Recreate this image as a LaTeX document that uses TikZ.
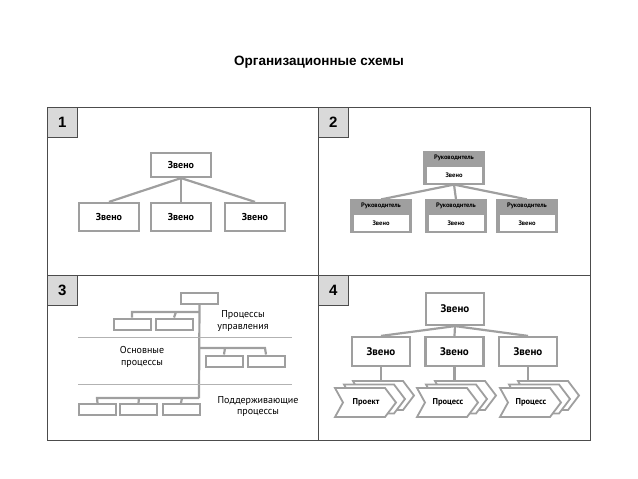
\documentclass[tikz,border=0pt]{standalone}
\usepackage{fontspec}
\setmainfont{Liberation Sans}
\newfontfamily\bx{PT Sans}
\begin{document}
\begin{tikzpicture}[x=1pt,y=-1pt,
  ln/.style={draw=gray!75,line width=2.2pt},
  bxs/.style={draw=gray!75,line width=2.2pt,fill=white,inner sep=0pt,font=\bx\bfseries\fontsize{10}{11}\selectfont},
  num/.style={draw=black!70,fill=gray!30,line width=0.8pt,minimum width=30pt,minimum height=30pt,inner sep=0pt,font=\bfseries\fontsize{15}{16}\selectfont,anchor=north west},
  hdr/.style={draw=gray!75,fill=gray!75,line width=2.2pt,minimum width=60pt,minimum height=31pt,inner sep=0pt},
  inb/.style={fill=white,minimum width=55pt,minimum height=16pt,inner sep=0pt,font=\bx\bfseries\fontsize{6.5}{7}\selectfont},
  ht/.style={font=\bx\bfseries\fontsize{6.5}{7}\selectfont},
  lbl/.style={font=\bx\fontsize{10}{11.5}\selectfont,align=center},
  sep/.style={draw=gray!60,line width=0.7pt},
  chev/.style={draw=gray!75,line width=1.8pt,fill=white,line join=miter}]
\useasboundingbox (0,0) rectangle (638,479);
\node[font=\bfseries\fontsize{13.5}{15}\selectfont] (title) at (319,62) {Организационные схемы};
\draw[black!70,line width=0.9pt] (47,107) rectangle (590,440);
\draw[black!70,line width=0.9pt] (318,107) -- (318,440) (47,275) -- (590,275);
\node[num] (n1) at (47,107) {1};
\node[num] (n2) at (318,107) {2};
\node[num] (n3) at (47,275) {3};
\node[num] (n4) at (318,275) {4};
% panel 1
\node[bxs,minimum width=60pt,minimum height=24pt] (a0) at (181,165) {Звено};
\foreach \i/\x in {1/109,2/181,3/255}{
  \node[bxs,minimum width=60pt,minimum height=28pt] (a\i) at (\x,217) {Звено};
  \draw[ln] (a0.south) -- (a\i.north);}
% panel 2
\node[hdr] (b0) at (454,168) {};
\node[inb,anchor=south] (b0i) at ([yshift=1.5pt]b0.south) {Звено};
\node[ht] (b0h) at ([yshift=-6.5pt]b0.north) {Руководитель};
\foreach \i/\x in {1/381,2/456,3/527}{
  \node[hdr] (b\i) at (\x,216) {};
  \node[inb,anchor=south] (b\i i) at ([yshift=1.5pt]b\i.south) {Звено};
  \node[ht] (b\i h) at ([yshift=-6.5pt]b\i.north) {Руководитель};
  \draw[ln] (b0.south) -- (b\i.north);}
% panel 3
\tikzset{sb/.style={draw=gray!75,line width=2pt,fill=white,minimum width=37pt,minimum height=11pt,inner sep=0pt}}
\node[sb] (c0) at (199.5,298) {};
\draw[ln] (c0.south) -- (199,398) coordinate (t3);
\node[sb] (c11) at (132,324) {};
\node[sb] (c12) at (174,324) {};
\draw[ln] (c11.north) -- (132,312) -- (199,312) (c12.north) -- (176,312);
\node[sb] (c21) at (224,361) {};
\node[sb] (c22) at (266,361) {};
\draw[ln] (199,348) -- (265,348) -- (c22.north) (c21.north) -- (225,348);
\node[sb] (c31) at (97.5,409.5) {};
\node[sb] (c32) at (138.5,409.5) {};
\node[sb] (c33) at (181,409.5) {};
\draw[ln] (c31.north) -- (97,398) -- (t3) (c32.north) -- (139,398) (c33.north) -- (182,398);
\draw[sep] (78,337) -- (292,337) (78,384) -- (292,384);
\node[lbl] (l1) at (243,321) {Процессы\\управления};
\node[lbl] (l2) at (142,357) {Основные\\процессы};
\node[lbl] (l3) at (258,406.5) {Поддерживающие\\процессы};
% panel 4
\node[bxs,minimum width=58pt,minimum height=32pt,font=\bx\bfseries\fontsize{11}{12}\selectfont] (d0) at (455,309) {Звено};
\foreach \i/\x in {1/381,2/454.5,3/528}{
  \node[bxs,minimum width=58pt,minimum height=29pt,font=\bx\bfseries\fontsize{11}{12}\selectfont] (d\i) at (\x,351.5) {Звено};
  \draw[ln] (d0.south) -- (d\i.north);
  \draw[ln] (d\i.south) -- (\x,381);}
\foreach \x/\t [count=\k] in {335/Проект,417/Процесс,500/Процесс}{
  \foreach \dx/\dy in {18/-7,9/-3.5,0/0}{
    \draw[chev] (\x+\dx,388+\dy) -- (\x+\dx+50,388+\dy) -- (\x+\dx+61,402.5+\dy) -- (\x+\dx+50,417+\dy) -- (\x+\dx,417+\dy) -- (\x+\dx+8,402.5+\dy) -- cycle;}
  \node[font=\bx\bfseries\fontsize{8.5}{9}\selectfont] (e\k) at (\x+31,402.5) {\t};}
\end{tikzpicture}
\end{document}
